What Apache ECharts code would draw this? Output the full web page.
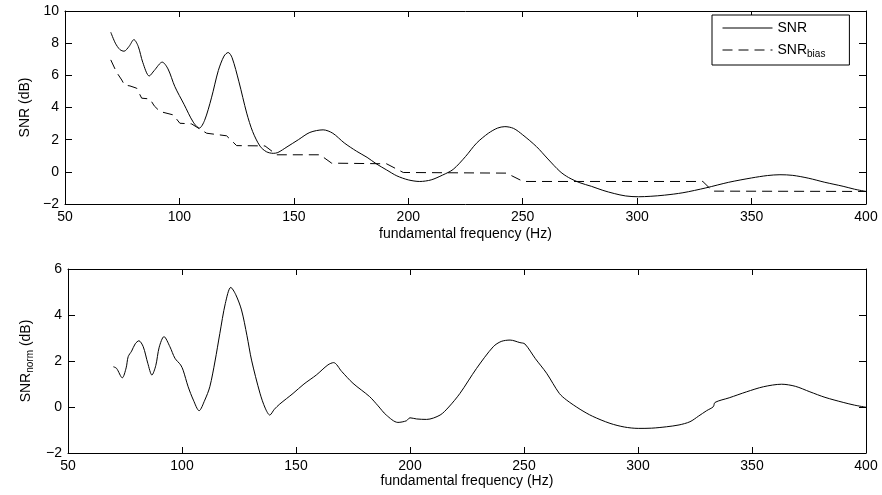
<!DOCTYPE html>
<html>
<head>
<meta charset="utf-8">
<script src="https://cdn.jsdelivr.net/npm/echarts@6/dist/echarts.min.js"></script>
<style>
  html, body { margin: 0; padding: 0; background: #fff; }
  #main { width: 882px; height: 495px; }
</style>
</head>
<body>
<div id="main"></div>
<script>
// top panel: SNR (solid)
var snrFreq = [70, 72, 74, 75.8, 78, 80.1, 82, 84, 86.8, 89, 92.5, 95, 98, 102, 106, 108.7, 111, 114, 117, 119.5, 121.3, 123, 126, 129.4, 132, 135.2, 138, 141, 143, 147, 152, 157, 162.8, 167, 172, 177.4, 182, 186, 190.5, 195, 200, 205, 210, 215, 219.6, 225, 229.8, 235, 239, 242.2, 246, 250, 256, 261, 266.3, 270, 275, 280, 285, 290, 295, 300.5, 306, 312, 320, 330, 340, 350, 357, 362.4, 368, 375, 382, 390, 395, 400];
var snrVal = [8.68, 8.0, 7.6, 7.5, 7.8, 8.22, 7.8, 6.8, 5.96, 6.3, 6.82, 6.4, 5.3, 4.2, 3.1, 2.72, 3.2, 4.6, 6.3, 7.2, 7.42, 7.1, 5.6, 3.65, 2.5, 1.6, 1.25, 1.15, 1.2, 1.55, 2.0, 2.45, 2.61, 2.4, 1.8, 1.28, 0.9, 0.5, 0.12, -0.25, -0.5, -0.6, -0.5, -0.2, 0.15, 0.95, 1.78, 2.4, 2.72, 2.81, 2.7, 2.3, 1.57, 0.8, 0.02, -0.35, -0.68, -0.9, -1.15, -1.35, -1.5, -1.55, -1.52, -1.45, -1.3, -1.0, -0.65, -0.38, -0.23, -0.18, -0.22, -0.4, -0.65, -0.9, -1.08, -1.22];

// top panel: SNR_bias (dashed, stepwise)
var biasFreq = [70, 72.5, 74.8, 76, 78.4, 81.3, 83.5, 87.1, 89, 91.5, 97.3, 100.2, 105.3, 111.9, 120.6, 125, 137.4, 142.5, 161.4, 166.5, 190.5, 197.8, 242.9, 250.2, 328.7, 333, 400];
var biasVal = [6.96, 6.2, 5.71, 5.4, 5.34, 5.2, 4.58, 4.53, 4.1, 3.75, 3.54, 3.02, 2.98, 2.4, 2.24, 1.63, 1.61, 1.06, 1.06, 0.54, 0.5, -0.04, -0.08, -0.6, -0.6, -1.2, -1.22];

// bottom panel: SNR_norm
var normFreq = [69.9, 71.3, 73.8, 75.5, 76.4, 77.9, 79.5, 81.1, 83, 85, 86.8, 88.5, 90, 92.1, 94.7, 96.9, 99.4, 100.5, 102.7, 105, 107.5, 110, 112.2, 114.5, 116.6, 119, 121.4, 123.5, 126.1, 128.5, 130.5, 134.2, 136.5, 138.5, 140.5, 142.9, 148.7, 153.5, 158.9, 164, 166.5, 170, 175, 182.3, 186, 189.6, 194.7, 198.4, 200, 202.9, 207.3, 213.2, 217, 221.9, 229.2, 236.5, 240, 243.9, 248.2, 250.4, 255, 259.9, 265.5, 268.7, 274.6, 280, 287.7, 294, 300.1, 306, 312.5, 318, 322.8, 326.5, 330.1, 333, 333.8, 340, 347.6, 355, 363, 369, 375.4, 382, 390, 395, 400];
var normVal = [1.75, 1.68, 1.27, 1.7, 2.19, 2.43, 2.75, 2.88, 2.62, 1.9, 1.39, 1.8, 2.6, 3.06, 2.62, 2.12, 1.83, 1.6, 0.88, 0.3, -0.16, 0.3, 0.88, 2.0, 3.2, 4.5, 5.2, 4.9, 4.22, 3.1, 2.04, 0.6, -0.05, -0.35, -0.1, 0.13, 0.59, 1.0, 1.39, 1.83, 1.93, 1.55, 1.03, 0.45, 0.05, -0.35, -0.67, -0.6, -0.47, -0.52, -0.54, -0.35, 0.0, 0.59, 1.68, 2.62, 2.85, 2.91, 2.8, 2.74, 2.1, 1.47, 0.59, 0.3, -0.1, -0.4, -0.71, -0.87, -0.93, -0.92, -0.86, -0.78, -0.64, -0.4, -0.16, 0.01, 0.2, 0.4, 0.66, 0.88, 0.99, 0.9, 0.66, 0.42, 0.2, 0.08, -0.01];

var xTicks = { min: 50, max: 400, interval: 50 };
var topY = { min: -2, max: 10, interval: 2 };
var botY = { min: -2, max: 6, interval: 2 };

function zip(xs, ys) {
    var out = [];
    for (var i = 0; i < xs.length; i++) {
        out.push([xs[i], ys[i]]);
    }
    return out;
}

function minus(v) {
    return v < 0 ? '\u2212' + (-v) : String(v);
}

var font = 'Liberation Sans, Arial, Helvetica, sans-serif';
var black = '#000';

// a box axis in matlab style: ticks inside, line on every side
function xAx(grid, pos, labels, name, gap) {
    return {
        type: 'value', gridIndex: grid, position: pos,
        min: xTicks.min, max: xTicks.max, interval: xTicks.interval,
        name: name || '', nameLocation: 'middle', nameGap: gap || 0,
        nameTextStyle: { color: black, fontSize: 14, fontFamily: font },
        axisLine: { show: true, onZero: false, lineStyle: { color: black, width: 1 } },
        axisTick: { show: true, inside: true, length: 6, lineStyle: { color: black } },
        axisLabel: { show: labels, color: black, fontSize: 14, fontFamily: font, margin: 6 },
        splitLine: { show: false }
    };
}

function yAx(grid, pos, rng, labels, name, gap, rich) {
    return {
        type: 'value', gridIndex: grid, position: pos,
        min: rng.min, max: rng.max, interval: rng.interval,
        name: name || '', nameLocation: 'middle', nameGap: gap || 0,
        nameTextStyle: { color: black, fontSize: 14, fontFamily: font, rich: rich },
        axisLine: { show: true, onZero: false, lineStyle: { color: black, width: 1 } },
        axisTick: { show: true, inside: true, length: 7, lineStyle: { color: black } },
        axisLabel: { show: labels, color: black, fontSize: 14, fontFamily: font, margin: 6, formatter: minus },
        splitLine: { show: false }
    };
}

var subRich = {
    a: { fontSize: 14, fontFamily: font, color: black, lineHeight: 18 },
    b: { fontSize: 10, fontFamily: font, color: black, lineHeight: 10, verticalAlign: 'bottom', padding: [8, 0, 0, 0] }
};

var chart = echarts.init(document.getElementById('main'), null, { renderer: 'canvas' });

chart.setOption({
    animation: false,
    backgroundColor: '#fff',
    grid: [
        { left: 65, right: 16, top: 11, height: 193, containLabel: false, outerBoundsMode: 'none' },
        { left: 68, right: 16, top: 269, height: 184, containLabel: false, outerBoundsMode: 'none' }
    ],
    xAxis: [
        xAx(0, 'bottom', true, 'fundamental frequency (Hz)', 23),
        xAx(0, 'top', false),
        xAx(1, 'bottom', true, 'fundamental frequency (Hz)', 16),
        xAx(1, 'top', false)
    ],
    yAxis: [
        yAx(0, 'left', topY, true, 'SNR (dB)', 32),
        yAx(0, 'right', topY, false),
        yAx(1, 'left', botY, true, '{a|SNR}{b|norm}{a| (dB)}', 30, subRich),
        yAx(1, 'right', botY, false)
    ],
    legend: {
        data: ['SNR', 'SNR_bias'],
        orient: 'vertical',
        left: 712, top: 15,
        padding: [6, 24, 6, 10],
        itemGap: 6,
        itemWidth: 50, itemHeight: 14,
        borderColor: black, borderWidth: 1,
        backgroundColor: '#fff',
        // line only, no marker
        itemStyle: { opacity: 0 },
        lineStyle: { width: 1 },
        textStyle: { color: black, fontSize: 14, fontFamily: font, rich: subRich },
        formatter: function (name) {
            return name === 'SNR' ? '{a|SNR}' : '{a|SNR}{b|bias}';
        }
    },
    series: [
        {
            name: 'SNR', type: 'line', xAxisIndex: 0, yAxisIndex: 0,
            data: zip(snrFreq, snrVal), smooth: 0.3, symbol: 'none',
            lineStyle: { color: black, width: 1 }, itemStyle: { color: black }
        },
        {
            name: 'SNR_bias', type: 'line', xAxisIndex: 0, yAxisIndex: 0,
            data: zip(biasFreq, biasVal), symbol: 'none',
            lineStyle: { color: black, width: 1, type: [10, 6] }, itemStyle: { color: black }
        },
        {
            name: 'SNR_norm', type: 'line', xAxisIndex: 2, yAxisIndex: 2,
            data: zip(normFreq, normVal), smooth: 0.3, symbol: 'none',
            lineStyle: { color: black, width: 1 }, itemStyle: { color: black }
        }
    ]
});
</script>
</body>
</html>
